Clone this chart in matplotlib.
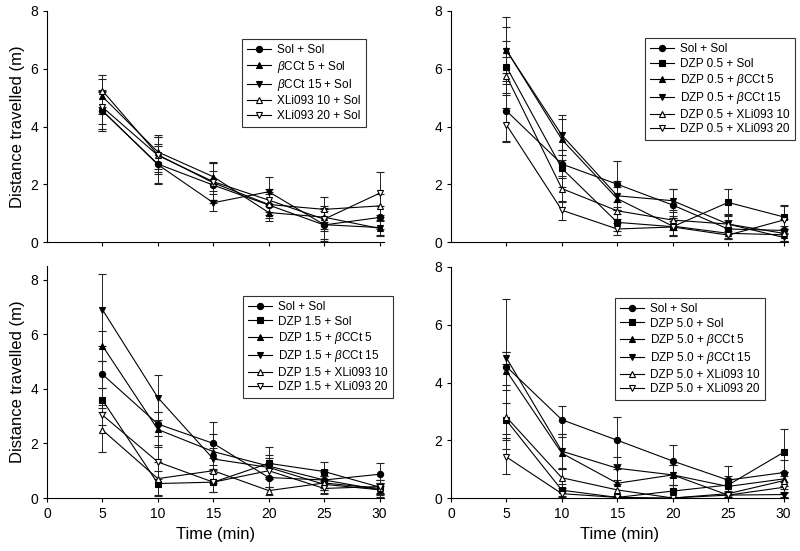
import matplotlib
matplotlib.use("Agg")
import matplotlib.pyplot as plt

plt.rcParams['font.family'] = ['Liberation Sans', 'DejaVu Sans']
plt.rcParams['mathtext.fontset'] = 'custom'
plt.rcParams['mathtext.rm'] = 'Liberation Sans'
plt.rcParams['mathtext.it'] = 'Liberation Sans:italic'

time = [5, 10, 15, 20, 25, 30]

# top left: βCCt / XLi093 alone
tl_labels = ['Sol + Sol', r'$\it{\beta}$CCt 5 + Sol', r'$\it{\beta}$CCt 15 + Sol',
             'XLi093 10 + Sol', 'XLi093 20 + Sol']
tl_means = [
    [4.54, 2.70, 1.97, 1.28, 0.59, 0.85],
    [5.04, 3.12, 2.26, 1.02, 0.86, 0.47],
    [4.55, 2.68, 1.36, 1.74, 0.60, 0.50],
    [5.24, 3.02, 2.05, 1.30, 1.13, 1.25],
    [4.67, 3.00, 2.09, 1.45, 0.79, 1.69],
]
tl_err = [
    [0.70, 0.70, 0.50, 0.45, 0.50, 0.40],
    [0.60, 0.60, 0.50, 0.30, 0.40, 0.25],
    [0.65, 0.65, 0.30, 0.50, 0.55, 0.25],
    [0.55, 0.60, 0.70, 0.35, 0.43, 0.40],
    [0.60, 0.65, 0.65, 0.40, 0.40, 0.75],
]

# top right: DZP 0.5
tr_labels = ['Sol + Sol', 'DZP 0.5 + Sol', r'DZP 0.5 + $\it{\beta}$CCt 5',
             r'DZP 0.5 + $\it{\beta}$CCt 15', 'DZP 0.5 + XLi093 10', 'DZP 0.5 + XLi093 20']
tr_means = [
    [4.54, 2.70, 2.00, 1.28, 0.45, 0.40],
    [6.07, 2.55, 0.68, 0.53, 1.37, 0.87],
    [6.65, 3.55, 1.50, 0.55, 0.30, 0.25],
    [6.63, 3.70, 1.60, 1.43, 0.62, 0.16],
    [5.75, 1.85, 1.08, 0.76, 0.62, 0.30],
    [4.06, 1.10, 0.45, 0.52, 0.24, 0.76],
]
tr_err = [
    [1.05, 0.50, 0.80, 0.55, 0.30, 0.40],
    [0.90, 0.65, 0.30, 0.30, 0.47, 0.41],
    [0.80, 0.70, 0.40, 0.35, 0.20, 0.20],
    [1.15, 0.70, 0.50, 0.40, 0.30, 0.15],
    [0.65, 0.45, 0.30, 0.35, 0.35, 0.25],
    [0.58, 0.33, 0.20, 0.30, 0.15, 0.50],
]

# bottom left: DZP 1.5
bl_labels = ['Sol + Sol', 'DZP 1.5 + Sol', r'DZP 1.5 + $\it{\beta}$CCt 5',
             r'DZP 1.5 + $\it{\beta}$CCt 15', 'DZP 1.5 + XLi093 10', 'DZP 1.5 + XLi093 20']
bl_means = [
    [4.53, 2.71, 2.00, 0.75, 0.66, 0.87],
    [3.59, 0.53, 0.58, 1.27, 0.97, 0.40],
    [5.58, 2.51, 1.70, 1.17, 0.66, 0.30],
    [6.90, 3.68, 1.43, 1.12, 0.50, 0.30],
    [2.49, 0.71, 1.00, 0.27, 0.55, 0.35],
    [3.04, 1.32, 0.58, 1.00, 0.35, 0.42],
]
bl_err = [
    [0.50, 0.45, 0.80, 0.35, 0.35, 0.43],
    [0.45, 0.45, 0.35, 0.59, 0.36, 0.25],
    [0.55, 0.65, 0.63, 0.40, 0.30, 0.20],
    [1.32, 0.83, 0.40, 0.35, 0.30, 0.25],
    [0.79, 0.60, 0.45, 0.15, 0.25, 0.20],
    [0.35, 0.62, 0.35, 0.30, 0.20, 0.25],
]

# bottom right: DZP 5.0
br_labels = ['Sol + Sol', 'DZP 5.0 + Sol', r'DZP 5.0 + $\it{\beta}$CCt 5',
             r'DZP 5.0 + $\it{\beta}$CCt 15', 'DZP 5.0 + XLi093 10', 'DZP 5.0 + XLi093 20']
br_means = [
    [4.55, 2.71, 2.00, 1.28, 0.62, 0.88],
    [2.69, 0.27, 0.02, 0.24, 0.45, 1.58],
    [4.40, 1.55, 0.51, 0.80, 0.40, 0.66],
    [4.85, 1.62, 1.03, 0.80, 0.10, 0.12],
    [2.80, 0.70, 0.28, 0.00, 0.15, 0.60],
    [1.42, 0.15, 0.02, 0.00, 0.10, 0.37],
]
br_err = [
    [2.35, 0.48, 0.82, 0.57, 0.50, 0.45],
    [0.60, 0.20, 0.05, 0.20, 0.30, 0.82],
    [0.65, 0.55, 0.50, 0.35, 0.25, 0.25],
    [0.22, 0.60, 0.40, 0.35, 0.10, 0.10],
    [1.10, 0.35, 0.20, 0.05, 0.10, 0.30],
    [0.58, 0.10, 0.05, 0.05, 0.05, 0.20],
]

markers = [('o', 'black'), ('s', 'black'), ('^', 'black'), ('v', 'black'),
           ('^', 'white'), ('v', 'white')]
tl_markers = [markers[0], markers[2], markers[3], markers[4], markers[5]]

fig = plt.figure(figsize=(8.0, 5.51), dpi=100)

W, H = 800.0, 551.0
def add_panel(left, top, width, height):
    return fig.add_axes([left / W, 1 - (top + height) / H, width / W, height / H])

panels = [
    (add_panel(47, 11, 337, 231), tl_labels, tl_means, tl_err, tl_markers, 8, (0.579, 0.879), False, True),
    (add_panel(451, 11, 337, 231), tr_labels, tr_means, tr_err, markers, 8, (0.576, 0.883), False, False),
    (add_panel(47, 266, 337, 232), bl_labels, bl_means, bl_err, markers, 8.5, (0.582, 0.871), True, True),
    (add_panel(451, 267, 337, 231), br_labels, br_means, br_err, markers, 8, (0.487, 0.866), True, False),
]

for ax, labels, means, errs, mk, ytop, anchor, bottom, left in panels:
    lines = []
    for lab, m, e, (sym, face) in zip(labels, means, errs, mk):
        c = ax.errorbar(time, m, yerr=e, color='black', lw=0.8, marker=sym,
                        markersize=4.5, markerfacecolor=face, markeredgecolor='black',
                        markeredgewidth=0.8, ecolor='#222222', elinewidth=0.7,
                        capsize=3, capthick=0.7)
        lines.append(c[0])
    ax.set_xlim(0, 30.4)
    ax.set_ylim(0, ytop)
    ax.set_xticks(range(0, 31, 5))
    ax.set_yticks([0, 2, 4, 6, 8])
    ax.spines['top'].set_visible(False)
    ax.spines['right'].set_visible(False)
    ax.tick_params(direction='out', length=3, width=0.8, labelsize=10)
    if not bottom:
        ax.tick_params(axis='x', labelbottom=False)
        ax.xaxis.set_ticks([5, 10, 15, 20, 25, 30])
    else:
        ax.set_xlabel('Time (min)', fontsize=12)
    if left:
        ax.set_ylabel('Distance travelled (m)', fontsize=12)
    # legend handles: line + marker only, no error bars
    leg = ax.legend(lines, labels, loc='upper left', bbox_to_anchor=anchor,
                    borderaxespad=0, fontsize=8.5, frameon=True, fancybox=False,
                    edgecolor='black', handlelength=2.0, handletextpad=0.5,
                    labelspacing=0.2, borderpad=0.45)
    leg.get_frame().set_linewidth(0.8)

fig.savefig('out.png', dpi=100)
